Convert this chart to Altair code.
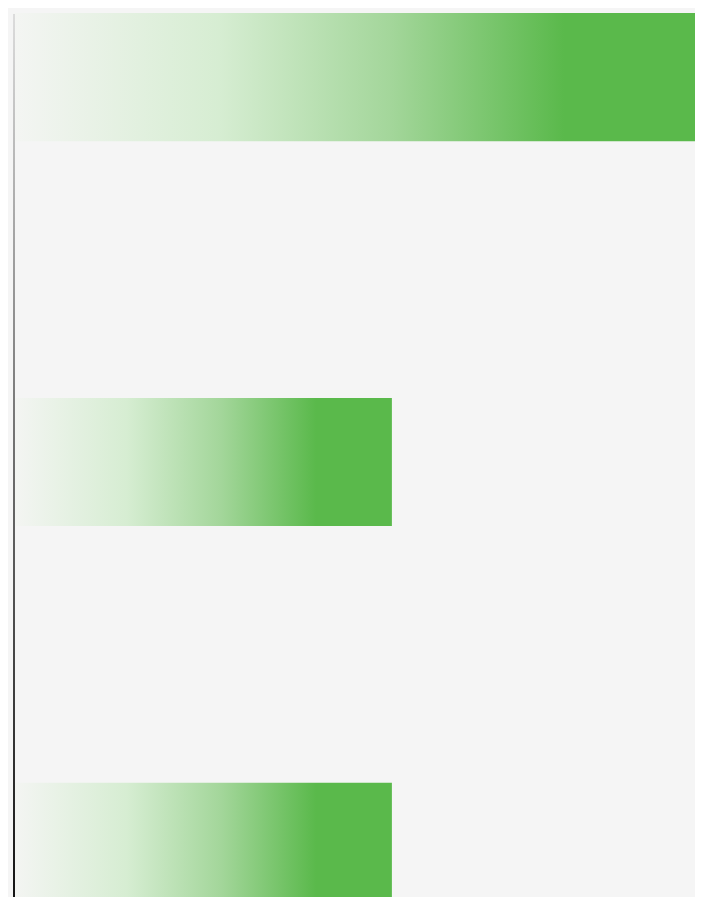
import altair as alt
import pandas as pd

categories = ["A", "B", "C"]
values = [100, 55, 55]

df = pd.DataFrame({"category": categories, "value": values})

green_grad = alt.Gradient(
    gradient="linear",
    stops=[
        alt.GradientStop(color="#f4f5f3", offset=0),
        alt.GradientStop(color="#d6edd2", offset=0.3),
        alt.GradientStop(color="#a3d69a", offset=0.55),
        alt.GradientStop(color="#5ab94b", offset=0.8),
        alt.GradientStop(color="#5ab94b", offset=1),
    ],
    x1=0, x2=1, y1=0, y2=0,
)

line_grad = alt.Gradient(
    gradient="linear",
    stops=[
        alt.GradientStop(color="#dcdcdc", offset=0),
        alt.GradientStop(color="#777777", offset=0.45),
        alt.GradientStop(color="#111111", offset=1),
    ],
    x1=0, x2=0, y1=0, y2=1,
)

bars = alt.Chart(df).mark_bar(color=green_grad, cornerRadius=0).encode(
    x=alt.X("value:Q", scale=alt.Scale(domain=[0, 99]), axis=None),
    y=alt.Y("category:N", sort=categories, axis=None,
            scale=alt.Scale(range=[0, 898], paddingInner=0.667, paddingOuter=0)),
)

line = alt.Chart(df).mark_rect(color=line_grad).encode(
    x=alt.value(0), x2=alt.value(2), y=alt.value(1), y2=alt.value(898)
).transform_filter(alt.datum.category == "A")

chart = alt.layer(bars, line).properties(
    width=682, height=884,
    padding={"left": 5, "top": 5, "right": 0, "bottom": 0},
    autosize=alt.AutoSizeParams(type="none"),
    background="#f5f5f5",
).configure_view(stroke=None)

chart.save("out.html", embed_options={"renderer": "svg", "actions": False})
